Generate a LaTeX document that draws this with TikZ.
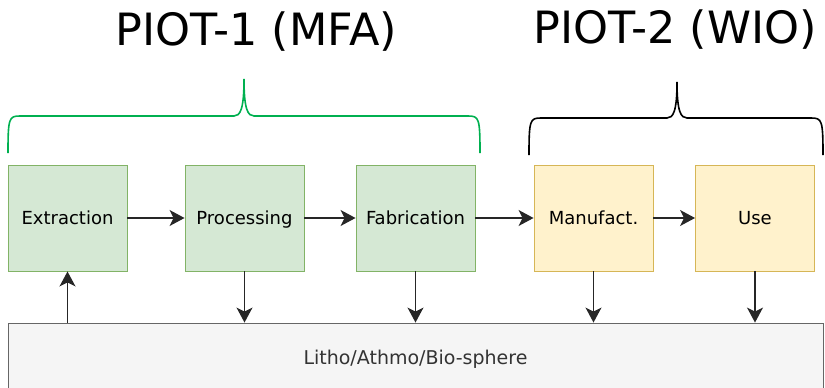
\documentclass[tikz,border=0pt]{standalone}
\usepackage{fontspec}
\setmainfont{DejaVu Sans}
\usepackage{tikz}
\usetikzlibrary{calc,arrows.meta}

\definecolor{mfafill}{HTML}{D5E8D4}
\definecolor{mfaline}{HTML}{82B366}
\definecolor{wiofill}{HTML}{FFF2CC}
\definecolor{wioline}{HTML}{D6B656}
\definecolor{envfill}{HTML}{F5F5F5}
\definecolor{envline}{HTML}{666666}
\definecolor{envtext}{HTML}{333333}
\definecolor{bracegreen}{HTML}{00B050}

\tikzset{
  stage/.style={draw, line width=0.9pt, minimum width=119pt, minimum height=106pt,
    font=\fontsize{18}{21}\selectfont, text height=13pt, text depth=0pt, inner sep=0pt},
  mfa/.style={stage, fill=mfafill, draw=mfaline},
  wio/.style={stage, fill=wiofill, draw=wioline},
  title/.style={anchor=base west, inner sep=0pt, font=\fontsize{44.5}{50}\selectfont},
  flow/.style={line width=1.4pt, draw=black!85, arrows={-Stealth[length=15pt,width=16pt,inset=4pt]}},
  brace/.style={line width=1.6pt}
}

\begin{document}
\begin{tikzpicture}[x=1pt, y=-1pt]
  \useasboundingbox (0,0) rectangle (825,388);
  % ------- environment -------
  \node[draw=envline, fill=envfill, line width=0.9pt, minimum width=815pt, minimum height=68pt,
    text=envtext, font=\fontsize{19}{22}\selectfont, text height=14pt, text depth=0pt, inner sep=0pt]
    (sphere) at (415.5,357) {Litho/Athmo/Bio-sphere};
  % ------- stages -------
  \node[mfa] (extr) at (67.5,218) {Extraction};
  \node[mfa] (proc) at (244.5,218) {Processing};
  \node[mfa] (fabr) at (415.5,218) {Fabrication};
  \node[wio] (manu) at (593.5,218) {Manufact.};
  \node[wio] (use)  at (755,218) {Use};
  % chain
  \draw[flow] (extr) -- (proc);
  \draw[flow] (proc) -- (fabr);
  \draw[flow] (fabr) -- (manu);
  \draw[flow] (manu) -- (use);
  % to and from the environment
  \draw[flow] (extr.south |- sphere.north) -- (extr.south);
  \foreach \s in {proc,fabr,manu,use}
    \draw[flow] (\s.south) -- (\s.south |- sphere.north);
  % ------- braces -------
  \draw[brace, bracegreen] (8,153) .. controls (8,118) and (9,116) .. (20,116) -- (234,116)
    .. controls (240,116) and (244,110) .. (244,79)
    .. controls (244,110) and (248,116) .. (254,116) -- (468,116)
    .. controls (479,116) and (480,118) .. (480,153);
  \draw[brace, black] (529,155) .. controls (529,120) and (530,118) .. (541,118) -- (667,118)
    .. controls (673,118) and (677,112) .. (677,82)
    .. controls (677,112) and (681,118) .. (687,118) -- (811,118)
    .. controls (822,118) and (823,120) .. (823,155);
  % ------- titles -------
  \node[title] (piot1) at (115,45) {PIOT-1 (MFA)};
  \node[title] (piot2) at (533,43) {PIOT-2 (WIO)};
\end{tikzpicture}
\end{document}
